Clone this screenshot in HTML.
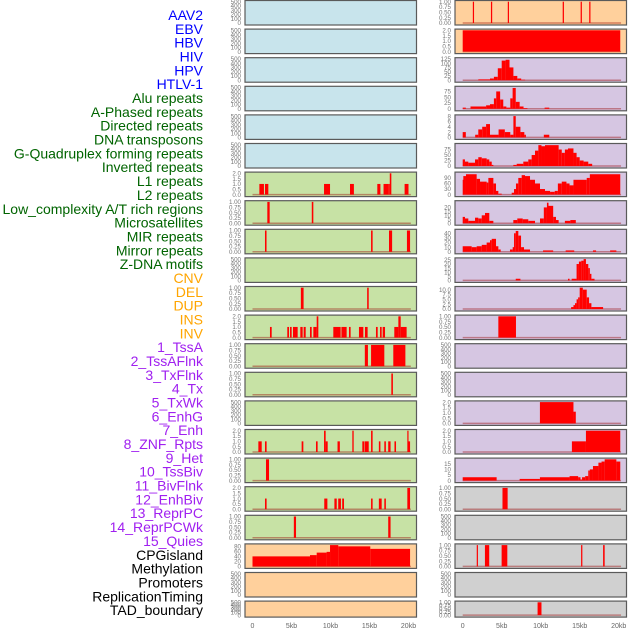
<!DOCTYPE html>
<html><head><meta charset="utf-8"><style>
html,body{margin:0;padding:0;background:#fff;}
svg{display:block;font-family:"Liberation Sans",sans-serif;}
</style></head><body>
<svg id="chart" width="630" height="630" viewBox="0 0 630 630" xmlns="http://www.w3.org/2000/svg"></svg>
<script>
const labels = ["AAV2","EBV","HBV","HIV","HPV","HTLV-1","Alu repeats","A-Phased repeats","Directed repeats","DNA transposons","G-Quadruplex forming repeats","Inverted repeats","L1 repeats","L2 repeats","Low_complexity A/T rich regions","Microsatellites","MIR repeats","Mirror repeats","Z-DNA motifs","CNV","DEL","DUP","INS","INV","1_TssA","2_TssAFlnk","3_TxFlnk","4_Tx","5_TxWk","6_EnhG","7_Enh","8_ZNF_Rpts","9_Het","10_TssBiv","11_BivFlnk","12_EnhBiv","13_ReprPC","14_ReprPCWk","15_Quies","CPGisland","Methylation","Promoters","ReplicationTiming","TAD_boundary"];
const labelGroups = [0,0,0,0,0,0,1,1,1,1,1,1,1,1,1,1,1,1,1,2,2,2,2,2,3,3,3,3,3,3,3,3,3,3,3,3,3,3,3,4,4,4,4,4];
const xTicks = [0,5,10,15,20];
const xTickLabels = ["0","5kb","10kb","15kb","20kb"];

const t500 = ["0","100","200","300","400","500"], v500=[0,100,200,300,400,500];
const t1 = ["0.00","0.25","0.50","0.75","1.00"], v1=[0,0.25,0.5,0.75,1];
const t2 = ["0.0","0.5","1.0","1.5","2.0"], v2=[0,0.5,1,1.5,2];

const L7 = [[0.88,1.47,1],[1.6,2.03,1],[9.17,9.94,1],[12.5,13.0,1],[16.0,16.4,1],[16.8,17.4,1],[17.4,17.6,1],[17.6,17.8,2],[19.5,20.0,1]];
const L8 = [[1.9,2.2,1],[7.6,7.8,1]];
const L9 = [[1.6,1.8,1],[15.2,15.4,1],[17.5,17.9,1],[19.8,20.2,1]];
const L11 = [[6.2,6.55,1],[14.7,14.9,1]];
const L12 = [[2.24,2.46,1],[4.46,4.68,1],[4.81,5.02,1],[5.19,5.79,1],[6.13,6.43,1],[6.56,6.82,1],[7.37,7.59,1],[7.8,8.23,1],[8.23,8.44,2],[10.36,11.3,1],[11.4,12.07,1],[12.37,12.58,1],[13.65,14.21,1],[14.42,14.76,1],[15.83,16.05,1],[16.35,16.56,1],[16.69,16.99,1],[18.18,18.7,1],[18.7,19.0,2],[19.0,19.76,1]];
const L13 = [[14.4,14.8,1],[15.2,16.9,1],[18.05,19.6,1]];
const L14 = [[17.8,18.0,1]];
const L16 = [[0.75,1.18,1],[1.6,1.81,1],[6.3,6.52,1],[8.14,8.35,1],[9.17,9.38,2],[9.38,9.64,1],[10.9,11.2,1],[12.8,12.97,2],[14.08,14.34,1],[14.4,14.9,1],[15.2,15.4,2],[16.2,16.4,1],[16.9,17.1,1],[17.4,17.7,1],[18.2,18.4,1],[19.85,19.98,2],[19.98,20.2,1]];
const L17 = [[1.73,2.12,1]];
const L18 = [[1.6,1.81,1],[9.2,9.6,1],[10.5,10.8,1],[10.99,11.34,1],[11.5,11.73,1],[15.2,15.4,1],[16.2,16.56,1],[16.9,17.1,1],[19.85,20.2,2]];
const L19 = [[5.3,5.58,1],[17.4,17.7,1]];
const L20 = [[0,7.37,40],[7.37,8.23,45],[8.23,9.5,55],[9.5,9.94,58],[9.94,11.0,85],[11.0,15.1,80],[15.1,20.2,70]];

const R1 = [[1.3,1.45,1],[3.62,3.78,1],[5.78,5.93,1],[12.82,12.98,1],[15.12,15.28,1],[16.22,16.38,1]];
const R2 = [[0,20.2,2]];
const R3 = [[2,3.5,5],[3.5,4,10],[4,4.5,20],[4.5,5,70],[5,5.5,115],[5.5,6,120],[6,6.5,75],[6.5,7,25],[7,7.5,10],[7.5,8,3]];
const R4 = [[0,0.4,5],[1,3,10],[3,3.5,15],[3.5,4,20],[4,4.3,45],[4.3,4.8,75],[4.8,5.2,40],[5.2,5.6,10],[5.6,6.1,5],[6.1,6.4,45],[6.4,6.8,90],[6.8,7.3,30],[7.3,7.8,10],[7.8,8.3,3],[10.5,11.1,5]];
const R5 = [[0,0.4,2],[1.6,2.0,1],[2.0,2.5,3],[2.5,3.0,4],[3.0,3.5,5],[3.5,4.6,1],[4.6,5.4,3],[5.4,6.1,2],[6.1,6.5,1],[6.5,6.8,8],[6.8,7.4,4],[7.4,7.9,2],[7.9,8.1,1],[10.4,11.1,1]];
const R6 = [[0,0.29,30],[0.29,0.72,20],[0.72,1.58,15],[1.58,2.0,30],[2.0,2.44,40],[2.44,3.07,35],[3.07,3.41,30],[3.41,3.72,20],[3.72,3.93,5],[6.49,6.92,5],[6.92,7.77,10],[7.77,8.41,20],[8.41,8.84,30],[8.84,9.27,50],[9.27,9.7,70],[9.7,10.1,95],[10.1,10.55,90],[10.55,12.3,95],[12.3,12.7,75],[12.7,13.1,60],[13.1,13.5,75],[13.5,14.2,80],[14.2,14.6,60],[14.6,15.0,40],[15.0,15.5,25],[15.5,16.1,20],[16.1,16.6,10]];
const R7 = [[0,0.08,80],[0.08,0.42,100],[0.42,1.79,110],[1.79,2.22,85],[2.22,3.07,70],[3.07,3.29,65],[3.29,3.93,90],[3.93,4.27,60],[4.27,4.57,20],[4.57,5.0,5],[6.28,6.58,10],[6.58,6.83,30],[6.83,7.13,60],[7.13,7.56,90],[7.56,7.99,105],[7.99,8.63,100],[8.63,9.27,80],[9.27,9.91,60],[9.91,10.55,30],[10.55,11.2,20],[11.2,11.8,15],[11.8,12.2,20],[12.2,12.7,60],[12.7,13.3,70],[13.3,13.7,60],[13.7,14.2,50],[14.2,15.9,80],[15.9,16.3,90],[16.3,20.2,110]];
const R8 = [[0,0.29,8],[0.29,0.72,6],[0.72,1.58,3],[1.58,2.0,7],[2.0,2.44,6],[2.44,2.86,10],[2.86,3.41,13],[3.41,3.93,3],[6.49,7.0,4],[7.0,7.69,6],[7.69,8.41,5],[8.41,9.27,3],[9.91,10.4,6],[10.4,10.8,20],[10.8,11.0,26],[11.0,11.6,22],[11.6,11.96,8],[11.96,12.3,4],[13.1,13.8,3],[13.8,14.5,4]];
const R9 = [[0,1.15,12],[1.15,1.79,10],[1.79,2.44,12],[2.44,3.07,15],[3.07,3.5,20],[3.5,3.72,25],[3.72,4.27,28],[4.27,4.57,12],[4.57,4.87,5],[6.06,6.41,5],[6.41,6.58,10],[6.58,6.8,40],[6.8,7.13,45],[7.13,7.48,35],[7.48,7.86,10],[7.86,8.63,5],[10.3,11.6,3],[13.2,14.3,3],[16.7,17.1,3],[18.9,19.7,3]];
const R10 = [[6.8,7.4,2],[13.5,13.7,2],[13.97,14.6,2],[14.6,14.9,20],[14.9,15.2,23],[15.2,15.5,24],[15.5,15.8,26],[15.8,16.1,20],[16.1,16.3,15],[16.3,16.5,8],[16.5,16.9,2]];
const R11 = [[13.9,14.2,1],[14.2,14.4,2],[14.4,14.6,3],[14.6,14.8,5],[14.8,15.0,6],[15.0,15.4,11],[15.4,15.9,10],[15.9,16.2,6],[16.2,16.5,3],[16.5,18.0,1]];
const R12 = [[4.57,6.83,1]];
const R15 = [[9.9,14.2,2],[14.2,14.5,1.1]];
const R16 = [[14.0,15.8,1],[15.8,20.2,2]];
const R17 = [[0,4.35,3],[7.3,9.9,1.5],[9.9,13.7,3],[13.7,14.8,4],[14.8,15.1,3],[15.1,15.3,1],[15.3,15.7,3],[15.7,16.1,4],[16.1,16.3,9],[16.3,16.7,10],[16.7,17.4,13],[17.4,17.8,16],[17.8,18.2,17],[18.2,19.7,19],[19.7,20.2,17]];
const R18 = [[5.1,5.76,1]];
const R20 = [[1.8,1.95,1],[2.85,3.4,1],[4.99,5.72,1],[15.18,15.34,1],[18.0,18.2,1]];
const R22 = [[9.6,10.1,1]];

const BLUE="#c8e4ec", GREEN="#c7e2a5", ORANGE="#ffd09c", PURPLE="#d6c6e2", GREY="#d0d0d0";
const E = {ymax:500,tv:v500,tl:t500,segs:null};
const leftPanels = [
 {bg:BLUE,...E},{bg:BLUE,...E},{bg:BLUE,...E},{bg:BLUE,...E},{bg:BLUE,...E},{bg:BLUE,...E},
 {bg:GREEN,ymax:2,tv:v2,tl:t2,segs:L7},
 {bg:GREEN,ymax:1,tv:v1,tl:t1,segs:L8},
 {bg:GREEN,ymax:1,tv:v1,tl:t1,segs:L9},
 {bg:GREEN,...E},
 {bg:GREEN,ymax:1,tv:v1,tl:t1,segs:L11},
 {bg:GREEN,ymax:2,tv:v2,tl:t2,segs:L12},
 {bg:GREEN,ymax:1,tv:v1,tl:t1,segs:L13},
 {bg:GREEN,ymax:1,tv:v1,tl:t1,segs:L14},
 {bg:GREEN,...E},
 {bg:GREEN,ymax:2,tv:v2,tl:t2,segs:L16},
 {bg:GREEN,ymax:1,tv:v1,tl:t1,segs:L17},
 {bg:GREEN,ymax:2,tv:v2,tl:t2,segs:L18},
 {bg:GREEN,ymax:1,tv:v1,tl:t1,segs:L19},
 {bg:ORANGE,ymax:85,tv:[0,20,40,60,80],tl:["0","20","40","60","80"],segs:L20},
 {bg:ORANGE,...E},{bg:ORANGE,...E}
];
const rightPanels = [
 {bg:ORANGE,ymax:1,tv:v1,tl:t1,segs:R1},
 {bg:ORANGE,ymax:2,tv:v2,tl:t2,segs:R2},
 {bg:PURPLE,ymax:125,tv:[0,25,50,75,100,125],tl:["0","25","50","75","100","125"],segs:R3},
 {bg:PURPLE,ymax:92,tv:[0,25,50,75],tl:["0","25","50","75"],segs:R4},
 {bg:PURPLE,ymax:8,tv:[0,2,4,6,8],tl:["0","2","4","6","8"],segs:R5},
 {bg:PURPLE,ymax:97,tv:[0,25,50,75],tl:["0","25","50","75"],segs:R6},
 {bg:PURPLE,ymax:115,tv:[0,30,60,90],tl:["0","30","60","90"],segs:R7},
 {bg:PURPLE,ymax:27,tv:[0,5,10,15,20],tl:["0","5","10","15","20"],segs:R8},
 {bg:PURPLE,ymax:46,tv:[0,10,20,30,40],tl:["0","10","20","30","40"],segs:R9},
 {bg:PURPLE,ymax:26,tv:[0,5,10,15,20,25],tl:["0","5","10","15","20","25"],segs:R10},
 {bg:PURPLE,ymax:11,tv:[0,2.5,5,7.5,10],tl:["0.0","2.5","5.0","7.5","10.0"],segs:R11},
 {bg:PURPLE,ymax:1,tv:v1,tl:t1,segs:R12},
 {bg:PURPLE,...E},{bg:PURPLE,...E},
 {bg:PURPLE,ymax:2,tv:v2,tl:t2,segs:R15},
 {bg:PURPLE,ymax:2,tv:v2,tl:t2,segs:R16},
 {bg:PURPLE,ymax:19,tv:[0,5,10,15],tl:["0","5","10","15"],segs:R17},
 {bg:GREY,ymax:1,tv:v1,tl:t1,segs:R18},
 {bg:GREY,...E},
 {bg:GREY,ymax:1,tv:v1,tl:t1,segs:R20},
 {bg:GREY,...E},
 {bg:GREY,ymax:1,tv:v1,tl:t1,segs:R22}
];

const NS="http://www.w3.org/2000/svg";
const svg=document.getElementById('chart');
function mk(tag,attrs,parent){const e=document.createElementNS(NS,tag);for(const k in attrs)e.setAttribute(k,attrs[k]);(parent||svg).appendChild(e);return e;}
const groupColors=["#0000ff","#006400","#ffa500","#a020f0","#000000"];

labels.forEach((t,i)=>{
  const e=mk('text',{x:203,y:15+i*13.84+5,'text-anchor':'end','font-size':14,fill:groupColors[labelGroups[i]]});
  e.textContent=t;
  
  
});

const kbPx=7.8;
function drawCol(panels,x0,left,right,colName){
  panels.forEach((p,i)=>{
    const top=i*28.6+0.5;
    const h=(i===21)?16:24.5;
    const g=mk('g',{});
    
    
    mk('rect',{x:left,y:top,width:right-left,height:h,fill:p.bg},g);
    const yb=top+h-2, ytop=top+1.2;
    const yScale=v=>yb-(v/p.ymax)*(yb-ytop);
    const xScale=k=>x0+k*kbPx;
    if(p.segs){
      mk('line',{x1:xScale(0),x2:xScale(20.3),y1:yb,y2:yb,stroke:'rgba(150,0,0,0.4)','stroke-width':1.5},g);
      p.segs.forEach(s=>{
        const r=mk('rect',{x:xScale(s[0]),y:yScale(s[2]),width:Math.max(1.2,xScale(s[1])-xScale(s[0])),height:yb-yScale(s[2]),fill:'#ff0000'},g);
        
        
      });
    }
    mk('rect',{x:left,y:top,width:right-left,height:h,fill:'none',stroke:'#5a5a5a','stroke-width':1.2},g);
    p.tv.forEach((v,j)=>{
      const t=mk('text',{x:left-4,y:yScale(v)+2.2,'text-anchor':'end','font-size':6.2,fill:'#777'},g);
      t.textContent=p.tl[j];
      
      
    });
  });
  xTicks.forEach((k,j)=>{
    const t=mk('text',{x:x0+k*kbPx,y:628,'text-anchor':'middle','font-size':7,fill:'#666'});
    t.textContent=xTickLabels[j];
    
    
  });
}
drawCol(leftPanels,252.5,245,416.5,'left');
drawCol(rightPanels,462.7,455,626.5,'right');
</script>
</body></html>
